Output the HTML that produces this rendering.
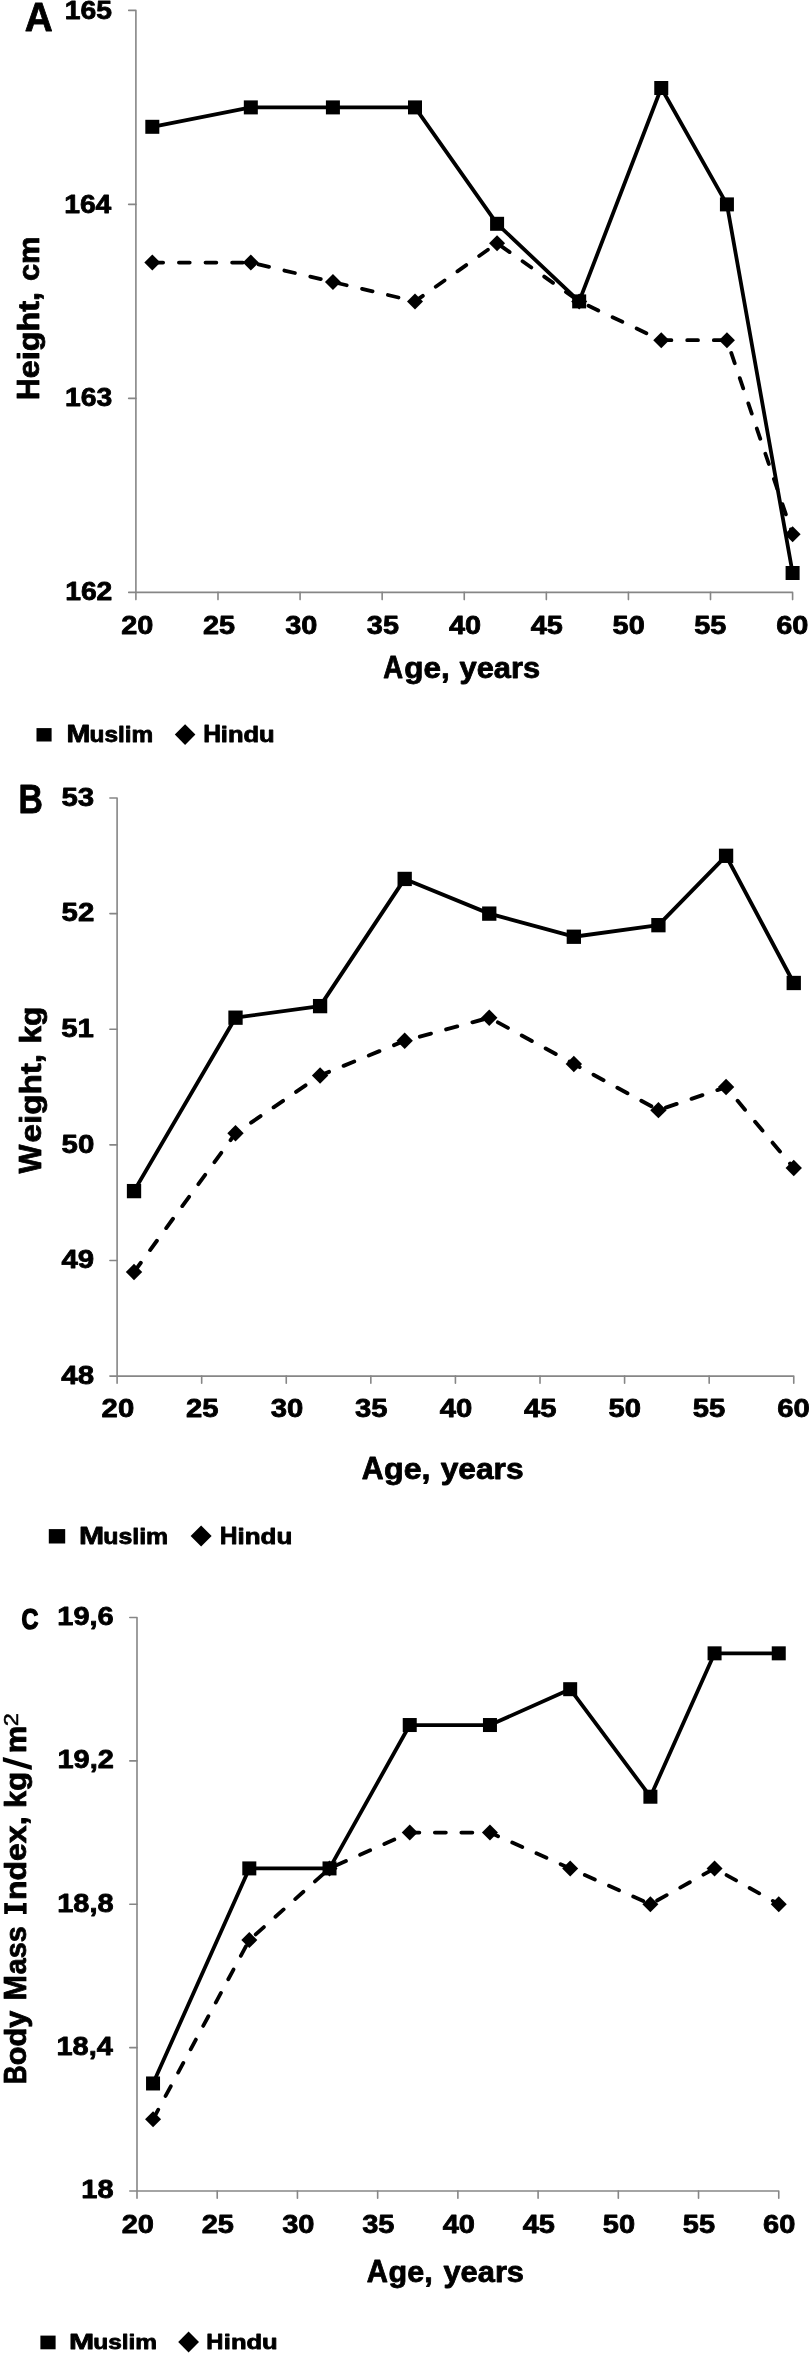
<!DOCTYPE html>
<html><head><meta charset="utf-8"><title>Figure</title>
<style>
html,body{margin:0;padding:0;background:#fff;}
svg{display:block;will-change:transform;}
svg text{font-family:"Liberation Sans",sans-serif;fill:#000;stroke:#000;stroke-linejoin:round;}
</style></head>
<body>
<svg width="811" height="2354" viewBox="0 0 811 2354">
<rect width="811" height="2354" fill="#fff"/>
<g font-weight="bold" stroke-width="0.8">
<text transform="translate(24.63,30.50) scale(0.9354,1)" font-size="41.42" font-weight="bold" stroke-width="0.80">A</text>
<g stroke="#868686" stroke-width="1.6" fill="none" stroke-linecap="round" stroke-linejoin="round">
<path d="M128.70,10.40H135.90V599.60"/>
<path d="M128.70,592.40H792.60V599.60"/>
<path d="M217.99,592.40V599.60"/>
<path d="M300.08,592.40V599.60"/>
<path d="M382.16,592.40V599.60"/>
<path d="M464.25,592.40V599.60"/>
<path d="M546.34,592.40V599.60"/>
<path d="M628.42,592.40V599.60"/>
<path d="M710.51,592.40V599.60"/>
<path d="M128.70,204.40H135.90"/>
<path d="M128.70,398.40H135.90"/>
</g>
<text transform="translate(64.83,19.14) scale(1.1000,1)" font-size="25.71">165</text>
<text transform="translate(64.18,212.78) scale(1.1000,1)" font-size="25.71">164</text>
<text transform="translate(65.05,406.41) scale(1.1000,1)" font-size="25.71">163</text>
<text transform="translate(65.17,600.04) scale(1.1000,1)" font-size="25.71">162</text>
<text transform="translate(121.22,633.94) scale(1.1300,1)" font-size="25.56">20</text>
<text transform="translate(202.92,633.94) scale(1.1300,1)" font-size="25.56">25</text>
<text transform="translate(285.17,633.94) scale(1.1300,1)" font-size="25.56">30</text>
<text transform="translate(366.87,633.94) scale(1.1300,1)" font-size="25.56">35</text>
<text transform="translate(449.06,633.94) scale(1.1300,1)" font-size="25.56">40</text>
<text transform="translate(530.76,633.94) scale(1.1300,1)" font-size="25.56">45</text>
<text transform="translate(612.61,633.94) scale(1.1300,1)" font-size="25.56">50</text>
<text transform="translate(694.31,633.94) scale(1.1300,1)" font-size="25.56">55</text>
<text transform="translate(776.30,633.94) scale(1.1300,1)" font-size="25.56">60</text>
<polyline fill="none" stroke="#000" stroke-width="3.8" stroke-dasharray="10.80 15.80" stroke-dashoffset="0" stroke-linecap="round" stroke-linejoin="round" points="152.32,262.60 250.82,262.60 332.91,282.00 415.00,301.40 497.09,243.20 579.17,301.40 661.26,340.20 726.93,340.20 792.60,534.20"/>
<polyline fill="none" stroke="#000" stroke-width="3.8" stroke-linejoin="round" points="152.32,126.80 250.82,107.40 332.91,107.40 415.00,107.40 497.09,223.80 579.17,301.40 661.26,88.00 726.93,204.40 792.60,573.00"/>
<path d="M152.32,254.60L160.32,262.60L152.32,270.60L144.32,262.60Z"/>
<path d="M250.82,254.60L258.82,262.60L250.82,270.60L242.82,262.60Z"/>
<path d="M332.91,274.00L340.91,282.00L332.91,290.00L324.91,282.00Z"/>
<path d="M415.00,293.40L423.00,301.40L415.00,309.40L407.00,301.40Z"/>
<path d="M497.09,235.20L505.09,243.20L497.09,251.20L489.09,243.20Z"/>
<path d="M579.17,293.40L587.17,301.40L579.17,309.40L571.17,301.40Z"/>
<path d="M661.26,332.20L669.26,340.20L661.26,348.20L653.26,340.20Z"/>
<path d="M726.93,332.20L734.93,340.20L726.93,348.20L718.93,340.20Z"/>
<path d="M792.60,526.20L800.60,534.20L792.60,542.20L784.60,534.20Z"/>
<rect x="145.32" y="119.80" width="14.00" height="14.00"/>
<rect x="243.82" y="100.40" width="14.00" height="14.00"/>
<rect x="325.91" y="100.40" width="14.00" height="14.00"/>
<rect x="408.00" y="100.40" width="14.00" height="14.00"/>
<rect x="490.09" y="216.80" width="14.00" height="14.00"/>
<rect x="572.17" y="294.40" width="14.00" height="14.00"/>
<rect x="654.26" y="81.00" width="14.00" height="14.00"/>
<rect x="719.93" y="197.40" width="14.00" height="14.00"/>
<rect x="785.60" y="566.00" width="14.00" height="14.00"/>
<text transform="translate(383.21,678.00) scale(0.8899,1)" font-size="30.81" font-weight="bold" stroke-width="0.80">A</text>
<text transform="translate(404.21,678.00) scale(1.0799,1)" font-size="29.16" font-weight="bold" stroke-width="0.80">ge,</text>
<text transform="translate(459.55,678.00) scale(1.0576,1)" font-size="29.16" font-weight="bold" stroke-width="0.80">years</text>
<text transform="translate(38.90,400.11) rotate(-90) scale(0.9534,1)" font-size="31.40" font-weight="bold" stroke-width="0.80">H</text>
<text transform="translate(38.90,378.26) rotate(-90) scale(1.1245,1)" font-size="28.79" font-weight="bold" stroke-width="0.80">eight,</text>
<text transform="translate(38.90,281.11) rotate(-90) scale(1.0753,1)" font-size="28.79" font-weight="bold" stroke-width="0.80">cm</text>
<rect x="36.50" y="728.10" width="15.10" height="13.40"/>
<path d="M185.10,724.30L195.40,734.60L185.10,744.90L174.80,734.60Z"/>
<text transform="translate(66.58,742.00) scale(1.2227,1)" font-size="23.40" font-weight="bold" stroke-width="0.80">M</text>
<text transform="translate(89.59,742.00) scale(1.1431,1)" font-size="21.31" font-weight="bold" stroke-width="0.80">uslim</text>
<text transform="translate(203.15,742.30) scale(1.0282,1)" font-size="23.98" font-weight="bold" stroke-width="0.80">H</text>
<text transform="translate(220.81,742.30) scale(1.1793,1)" font-size="21.68" font-weight="bold" stroke-width="0.80">indu</text>
<text transform="translate(18.54,813.10) scale(0.8449,1)" font-size="39.97" font-weight="bold" stroke-width="0.80">B</text>
<g stroke="#868686" stroke-width="1.6" fill="none" stroke-linecap="round" stroke-linejoin="round">
<path d="M109.90,798.00H117.10V1383.30"/>
<path d="M109.90,1376.10H793.75V1383.30"/>
<path d="M201.68,1376.10V1383.30"/>
<path d="M286.26,1376.10V1383.30"/>
<path d="M370.84,1376.10V1383.30"/>
<path d="M455.42,1376.10V1383.30"/>
<path d="M540.01,1376.10V1383.30"/>
<path d="M624.59,1376.10V1383.30"/>
<path d="M709.17,1376.10V1383.30"/>
<path d="M109.90,913.62H117.10"/>
<path d="M109.90,1029.24H117.10"/>
<path d="M109.90,1144.86H117.10"/>
<path d="M109.90,1260.48H117.10"/>
</g>
<text transform="translate(61.44,805.74) scale(1.1200,1)" font-size="26.27">53</text>
<text transform="translate(61.56,921.36) scale(1.1200,1)" font-size="26.27">52</text>
<text transform="translate(61.20,1036.98) scale(1.1200,1)" font-size="26.27">51</text>
<text transform="translate(61.59,1152.60) scale(1.1200,1)" font-size="26.27">50</text>
<text transform="translate(61.47,1268.22) scale(1.1200,1)" font-size="26.27">49</text>
<text transform="translate(61.29,1383.84) scale(1.1200,1)" font-size="26.27">48</text>
<text transform="translate(101.62,1417.44) scale(1.1200,1)" font-size="26.13">20</text>
<text transform="translate(185.89,1417.44) scale(1.1200,1)" font-size="26.13">25</text>
<text transform="translate(270.73,1417.44) scale(1.1200,1)" font-size="26.13">30</text>
<text transform="translate(355.01,1417.44) scale(1.1200,1)" font-size="26.13">35</text>
<text transform="translate(439.78,1417.44) scale(1.1200,1)" font-size="26.13">40</text>
<text transform="translate(524.06,1417.44) scale(1.1200,1)" font-size="26.13">45</text>
<text transform="translate(608.49,1417.44) scale(1.1200,1)" font-size="26.13">50</text>
<text transform="translate(692.77,1417.44) scale(1.1200,1)" font-size="26.13">55</text>
<text transform="translate(777.34,1417.44) scale(1.1200,1)" font-size="26.13">60</text>
<polyline fill="none" stroke="#000" stroke-width="3.9" stroke-dasharray="11.50 15.75" stroke-dashoffset="0" stroke-linecap="round" stroke-linejoin="round" points="134.02,1272.04 235.51,1133.30 320.09,1075.49 404.68,1040.80 489.26,1017.68 573.84,1063.93 658.42,1110.17 726.08,1087.05 793.75,1167.98"/>
<polyline fill="none" stroke="#000" stroke-width="3.9" stroke-linejoin="round" points="134.02,1191.11 235.51,1017.68 320.09,1006.12 404.68,878.93 489.26,913.62 573.84,936.74 658.42,925.18 726.08,855.81 793.75,982.99"/>
<path d="M134.02,1263.84L142.22,1272.04L134.02,1280.24L125.82,1272.04Z"/>
<path d="M235.51,1125.10L243.71,1133.30L235.51,1141.50L227.31,1133.30Z"/>
<path d="M320.09,1067.29L328.29,1075.49L320.09,1083.69L311.89,1075.49Z"/>
<path d="M404.68,1032.60L412.88,1040.80L404.68,1049.00L396.48,1040.80Z"/>
<path d="M489.26,1009.48L497.46,1017.68L489.26,1025.88L481.06,1017.68Z"/>
<path d="M573.84,1055.73L582.04,1063.93L573.84,1072.13L565.64,1063.93Z"/>
<path d="M658.42,1101.97L666.62,1110.17L658.42,1118.37L650.22,1110.17Z"/>
<path d="M726.08,1078.85L734.28,1087.05L726.08,1095.25L717.88,1087.05Z"/>
<path d="M793.75,1159.78L801.95,1167.98L793.75,1176.18L785.55,1167.98Z"/>
<rect x="126.87" y="1183.96" width="14.30" height="14.30"/>
<rect x="228.36" y="1010.53" width="14.30" height="14.30"/>
<rect x="312.94" y="998.97" width="14.30" height="14.30"/>
<rect x="397.53" y="871.78" width="14.30" height="14.30"/>
<rect x="482.11" y="906.47" width="14.30" height="14.30"/>
<rect x="566.69" y="929.59" width="14.30" height="14.30"/>
<rect x="651.27" y="918.03" width="14.30" height="14.30"/>
<rect x="718.93" y="848.66" width="14.30" height="14.30"/>
<rect x="786.60" y="975.84" width="14.30" height="14.30"/>
<text transform="translate(361.84,1479.20) scale(0.9636,1)" font-size="31.40" font-weight="bold" stroke-width="0.80">A</text>
<text transform="translate(384.08,1479.20) scale(1.1101,1)" font-size="28.97" font-weight="bold" stroke-width="0.80">ge,</text>
<text transform="translate(440.75,1479.20) scale(1.0940,1)" font-size="28.97" font-weight="bold" stroke-width="0.80">years</text>
<text transform="translate(41.00,1173.53) rotate(-90) scale(0.9508,1)" font-size="32.27" font-weight="bold" stroke-width="0.80">W</text>
<text transform="translate(41.00,1142.39) rotate(-90) scale(1.1098,1)" font-size="29.91" font-weight="bold" stroke-width="0.80">eight,</text>
<text transform="translate(41.00,1043.62) rotate(-90) scale(1.0583,1)" font-size="29.91" font-weight="bold" stroke-width="0.80">kg</text>
<rect x="48.80" y="1529.10" width="16.40" height="14.40"/>
<path d="M201.10,1525.40L211.60,1535.90L201.10,1546.40L190.60,1535.90Z"/>
<text transform="translate(79.08,1544.10) scale(1.2216,1)" font-size="24.71" font-weight="bold" stroke-width="0.80">M</text>
<text transform="translate(103.26,1544.10) scale(1.1376,1)" font-size="21.87" font-weight="bold" stroke-width="0.80">uslim</text>
<text transform="translate(219.65,1543.80) scale(1.0282,1)" font-size="23.98" font-weight="bold" stroke-width="0.80">H</text>
<text transform="translate(237.48,1543.80) scale(1.1980,1)" font-size="21.68" font-weight="bold" stroke-width="0.80">indu</text>
<text transform="translate(21.59,1629.05) scale(0.7850,1)" font-size="29.80" font-weight="bold" stroke-width="1.50">C</text>
<g stroke="#868686" stroke-width="1.6" fill="none" stroke-linecap="round" stroke-linejoin="round">
<path d="M129.80,1617.50H137.00V2198.20"/>
<path d="M129.80,2191.00H778.75V2198.20"/>
<path d="M217.22,2191.00V2198.20"/>
<path d="M297.44,2191.00V2198.20"/>
<path d="M377.66,2191.00V2198.20"/>
<path d="M457.88,2191.00V2198.20"/>
<path d="M538.09,2191.00V2198.20"/>
<path d="M618.31,2191.00V2198.20"/>
<path d="M698.53,2191.00V2198.20"/>
<path d="M129.80,1760.88H137.00"/>
<path d="M129.80,1904.25H137.00"/>
<path d="M129.80,2047.63H137.00"/>
</g>
<text transform="translate(57.34,1624.90) scale(1.1400,1)" font-size="25.42">19,6</text>
<text transform="translate(57.46,1768.27) scale(1.1400,1)" font-size="25.42">19,2</text>
<text transform="translate(57.20,1911.65) scale(1.1400,1)" font-size="25.42">18,8</text>
<text transform="translate(56.44,2055.02) scale(1.1400,1)" font-size="25.42">18,4</text>
<text transform="translate(81.37,2198.40) scale(1.1400,1)" font-size="25.42">18</text>
<text transform="translate(121.64,2233.14) scale(1.1300,1)" font-size="25.71">20</text>
<text transform="translate(201.63,2233.14) scale(1.1300,1)" font-size="25.71">25</text>
<text transform="translate(282.17,2233.14) scale(1.1300,1)" font-size="25.71">30</text>
<text transform="translate(362.17,2233.14) scale(1.1300,1)" font-size="25.71">35</text>
<text transform="translate(442.65,2233.14) scale(1.1300,1)" font-size="25.71">40</text>
<text transform="translate(522.64,2233.14) scale(1.1300,1)" font-size="25.71">45</text>
<text transform="translate(602.78,2233.14) scale(1.1300,1)" font-size="25.71">50</text>
<text transform="translate(682.77,2233.14) scale(1.1300,1)" font-size="25.71">55</text>
<text transform="translate(763.06,2233.14) scale(1.1300,1)" font-size="25.71">60</text>
<polyline fill="none" stroke="#000" stroke-width="3.8" stroke-dasharray="11.00 15.50" stroke-dashoffset="0" stroke-linecap="round" stroke-linejoin="round" points="153.04,2119.31 249.31,1940.09 329.52,1868.41 409.74,1832.56 489.96,1832.56 570.18,1868.41 650.40,1904.25 714.58,1868.41 778.75,1904.25"/>
<polyline fill="none" stroke="#000" stroke-width="3.8" stroke-linejoin="round" points="153.04,2083.47 249.31,1868.41 329.52,1868.41 409.74,1725.03 489.96,1725.03 570.18,1689.19 650.40,1796.72 714.58,1653.34 778.75,1653.34"/>
<path d="M153.04,2111.31L161.04,2119.31L153.04,2127.31L145.04,2119.31Z"/>
<path d="M249.31,1932.09L257.31,1940.09L249.31,1948.09L241.31,1940.09Z"/>
<path d="M329.52,1860.41L337.52,1868.41L329.52,1876.41L321.52,1868.41Z"/>
<path d="M409.74,1824.56L417.74,1832.56L409.74,1840.56L401.74,1832.56Z"/>
<path d="M489.96,1824.56L497.96,1832.56L489.96,1840.56L481.96,1832.56Z"/>
<path d="M570.18,1860.41L578.18,1868.41L570.18,1876.41L562.18,1868.41Z"/>
<path d="M650.40,1896.25L658.40,1904.25L650.40,1912.25L642.40,1904.25Z"/>
<path d="M714.58,1860.41L722.58,1868.41L714.58,1876.41L706.58,1868.41Z"/>
<path d="M778.75,1896.25L786.75,1904.25L778.75,1912.25L770.75,1904.25Z"/>
<rect x="146.04" y="2076.47" width="14.00" height="14.00"/>
<rect x="242.31" y="1861.41" width="14.00" height="14.00"/>
<rect x="322.52" y="1861.41" width="14.00" height="14.00"/>
<rect x="402.74" y="1718.03" width="14.00" height="14.00"/>
<rect x="482.96" y="1718.03" width="14.00" height="14.00"/>
<rect x="563.18" y="1682.19" width="14.00" height="14.00"/>
<rect x="643.40" y="1789.72" width="14.00" height="14.00"/>
<rect x="707.58" y="1646.34" width="14.00" height="14.00"/>
<rect x="771.75" y="1646.34" width="14.00" height="14.00"/>
<text transform="translate(366.87,2281.50) scale(0.9483,1)" font-size="30.96" font-weight="bold" stroke-width="0.80">A</text>
<text transform="translate(388.55,2281.50) scale(1.0533,1)" font-size="28.97" font-weight="bold" stroke-width="0.80">ge,</text>
<text transform="translate(443.45,2281.50) scale(1.0644,1)" font-size="28.97" font-weight="bold" stroke-width="0.80">years</text>
<text transform="translate(26.30,2084.35) rotate(-90) scale(0.8264,1)" font-size="31.54" font-weight="bold" stroke-width="0.80">B</text>
<text transform="translate(26.30,2065.30) rotate(-90) scale(1.0748,1)" font-size="28.60" font-weight="bold" stroke-width="0.80">ody</text>
<text transform="translate(26.30,2000.45) rotate(-90) scale(0.9707,1)" font-size="31.54" font-weight="bold" stroke-width="0.80">M</text>
<text transform="translate(26.30,1974.33) rotate(-90) scale(1.0066,1)" font-size="28.60" font-weight="bold" stroke-width="0.80">ass</text>
<text transform="translate(26.30,1899.91) rotate(-90) scale(1.1171,1)" font-size="28.60" font-weight="bold" stroke-width="0.80">ndex,</text>
<text transform="translate(26.30,1807.96) rotate(-90) scale(1.0796,1)" font-size="28.60" font-weight="bold" stroke-width="0.80">kg</text>
<text transform="translate(26.30,1753.34) rotate(-90) scale(1.0798,1)" font-size="28.60" font-weight="bold" stroke-width="0.80">m</text>
<path d="M2.9,1757.1L2.9,1761.6L31.8,1769.9L31.8,1765.4Z"/>
<path d="M4.2,1902.9H7.8V1905.6H22.9V1902.9H26.6V1914.0H22.9V1910.9H7.8V1914.0H4.2Z"/>
<text transform="translate(17.95,1726.13) rotate(-90) scale(1.1407,1)" font-size="20.76" font-weight="normal" stroke-width="0.50">2</text>
<rect x="40.40" y="2335.60" width="15.20" height="13.70"/>
<path d="M188.60,2331.60L199.00,2342.00L188.60,2352.40L178.20,2342.00Z"/>
<text transform="translate(69.08,2349.10) scale(1.3144,1)" font-size="22.97" font-weight="bold" stroke-width="0.80">M</text>
<text transform="translate(93.28,2349.10) scale(1.1778,1)" font-size="20.75" font-weight="bold" stroke-width="0.80">uslim</text>
<text transform="translate(206.20,2348.80) scale(1.0568,1)" font-size="22.53" font-weight="bold" stroke-width="0.80">H</text>
<text transform="translate(223.81,2348.80) scale(1.2324,1)" font-size="20.75" font-weight="bold" stroke-width="0.80">indu</text>
</g>
</svg>
</body></html>
